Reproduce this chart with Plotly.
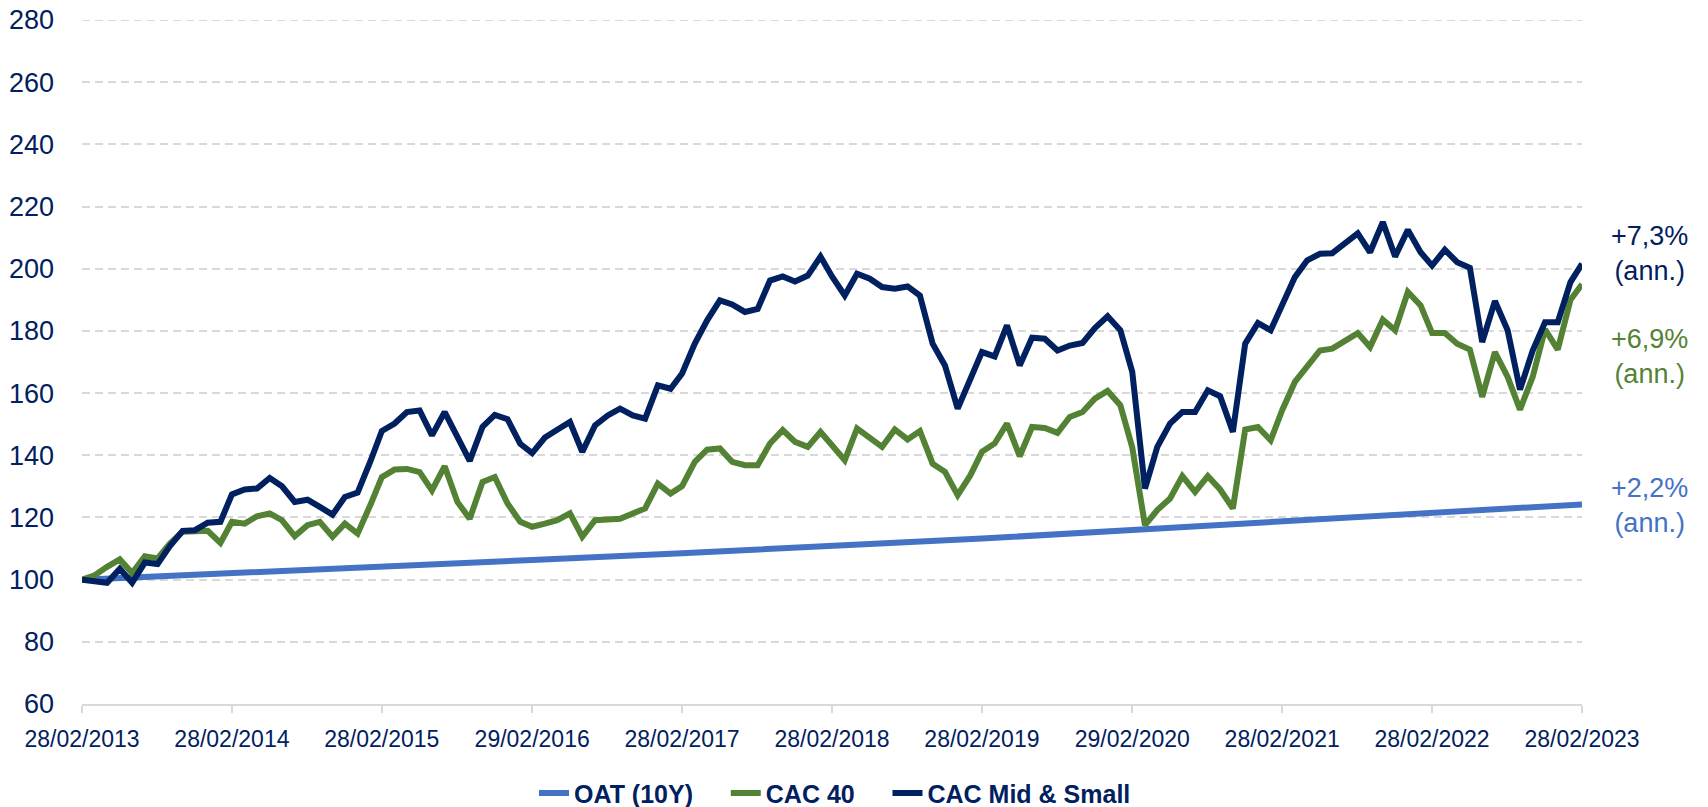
import pandas as pd
import plotly.graph_objects as go

# Monthly dates (month-end), Feb 2013 -> Feb 2023
dates = pd.date_range("2013-02-28", periods=121, freq="ME")

cac_mid_small = [
    100.0, 99.3, 99.0, 103.5, 99.0, 105.5, 105.0, 110.8, 115.7, 115.9, 118.3, 118.6,
    127.4, 129.0, 129.3, 132.7, 130.0, 125.0, 125.7, 123.4, 120.9, 126.6, 128.0, 138.0,
    147.8, 150.2, 153.9, 154.4, 146.4, 153.9, 145.9, 138.2, 149.1, 153.0, 151.6, 143.7,
    140.7, 145.7, 148.2, 150.7, 141.1, 149.6, 152.8, 155.0, 152.8, 151.8, 162.5, 161.4,
    166.3, 175.9, 183.4, 189.8, 188.5, 186.1, 187.1, 196.2, 197.5, 195.9, 197.8, 203.9,
    197.5, 191.4, 198.4, 196.8, 194.1, 193.6, 194.3, 191.4, 175.9, 168.9, 155.0, 164.1,
    173.2, 171.8, 181.8, 168.9, 177.8, 177.5, 173.7, 175.3, 176.1, 180.9, 184.7, 180.2,
    166.8, 129.3, 142.7, 150.2, 153.9, 153.9, 160.9, 159.0, 147.5, 175.9, 182.5, 180.2,
    188.7, 197.3, 202.7, 204.8, 205.0, 208.0, 211.4, 205.3, 215.0, 203.9, 212.5, 205.3,
    201.0, 206.1, 202.1, 200.3, 176.4, 189.6, 180.2, 161.1, 173.7, 182.8, 182.8, 195.7,
    201.6,
]

cac_40 = [
    100.0, 101.4, 104.1, 106.5, 102.1, 107.5, 106.8, 111.6, 115.4, 115.4, 115.7, 111.8,
    118.6, 118.0, 120.4, 121.3, 119.1, 114.0, 117.5, 118.6, 113.8, 118.0, 114.8, 124.0,
    133.0, 135.4, 135.6, 134.6, 128.7, 136.5, 125.0, 119.6, 131.4, 133.0, 124.5, 118.6,
    117.0, 118.0, 119.1, 121.3, 113.8, 119.1, 119.3, 119.6, 121.3, 122.9, 130.9, 127.7,
    130.1, 137.9, 141.8, 142.2, 137.9, 136.8, 136.8, 143.8, 148.1, 144.3, 142.7, 147.5,
    143.2, 138.4, 148.6, 145.4, 142.7, 148.3, 145.1, 147.8, 137.3, 134.7, 127.2, 133.6,
    141.1, 143.8, 150.2, 139.7, 149.1, 148.8, 147.2, 152.3, 153.9, 158.2, 160.7, 156.1,
    142.5, 117.5, 122.4, 126.1, 133.3, 128.2, 133.3, 129.0, 122.9, 148.3, 149.1, 144.8,
    154.5, 163.6, 168.4, 173.7, 174.3, 177.0, 179.3, 174.8, 183.6, 180.2, 192.5, 188.2,
    179.3, 179.3, 175.9, 174.0, 158.8, 173.2, 165.2, 154.7, 165.2, 180.5, 174.0, 190.0,
    195.0,
]

# OAT (10Y) read at each yearly tick
oat_dates = ["2013-02-28", "2014-02-28", "2015-02-28", "2016-02-29", "2017-02-28",
             "2018-02-28", "2019-02-28", "2020-02-29", "2021-02-28", "2022-02-28",
             "2023-02-28"]
oat_10y = [100.0, 102.0, 104.3, 106.3, 108.5, 110.8, 113.2, 116.0, 118.6, 121.3, 124.2]

tick_labels = ["28/02/2013", "28/02/2014", "28/02/2015", "29/02/2016", "28/02/2017",
               "28/02/2018", "28/02/2019", "29/02/2020", "28/02/2021", "28/02/2022",
               "28/02/2023"]

series_names = ["OAT (10Y)", "CAC 40", "CAC Mid & Small"]
annual_returns = ["+2,2%", "+6,9%", "+7,3%"]

Y_MIN, Y_MAX = 60, 280

NAVY = "#002060"
GREEN = "#548235"
BLUE = "#4472C4"
GRID = "#D9D9D9"
FONT = "Liberation Sans"
PAD = "\u00a0\u00a0\u00a0\u00a0"

fig = go.Figure()
fig.add_trace(go.Scatter(x=oat_dates, y=oat_10y, mode="lines", name=series_names[0] + PAD,
                         line=dict(color=BLUE, width=6)))
fig.add_trace(go.Scatter(x=dates, y=cac_40, mode="lines", name=series_names[1] + PAD,
                         line=dict(color=GREEN, width=6)))
fig.add_trace(go.Scatter(x=dates, y=cac_mid_small, mode="lines", name=series_names[2],
                         line=dict(color=NAVY, width=6)))

# top gridline (plotly clips gridlines at the range end)
fig.add_shape(type="line", xref="paper", yref="y", x0=0, x1=1, y0=Y_MAX, y1=Y_MAX,
              line=dict(color=GRID, width=2, dash="8px,5px"), layer="below")

# annotations: annualised returns
ann_y = [0.2905, 0.5085, 0.6588]
ann_col = [BLUE, GREEN, NAVY]
for txt, yy, col in zip(annual_returns, ann_y, ann_col):
    fig.add_annotation(xref="paper", yref="paper", x=1.0447, y=yy,
                       text=f"{txt}<br>(ann.)", showarrow=False,
                       xanchor="center", yanchor="middle",
                       font=dict(family=FONT, size=27, color=col))

fig.update_layout(
    width=1708, height=807,
    margin=dict(l=82, r=126, t=20, b=103, autoexpand=False),
    paper_bgcolor="white", plot_bgcolor="white",
    showlegend=True,
    legend=dict(orientation="h", x=0.502, y=-0.1306, xanchor="center", yanchor="middle",
                font=dict(family=FONT, size=25, color=NAVY, weight="bold"),
                tracegroupgap=0),
    font=dict(family=FONT, color=NAVY),
)

fig.update_xaxes(
    type="date",
    range=[dates[0], dates[-1]],
    tickvals=oat_dates, ticktext=tick_labels,
    showgrid=False, zeroline=False,
    showline=True, linecolor=GRID, linewidth=2,
    ticks="outside", ticklen=7, tickwidth=2, tickcolor=GRID,
    ticklabelstandoff=6, ticklabeloverflow="allow",
    tickfont=dict(family=FONT, size=23, color=NAVY),
    automargin=False,
)
fig.update_yaxes(
    range=[Y_MIN, Y_MAX], tick0=Y_MIN, dtick=20,
    showgrid=True, gridcolor=GRID, gridwidth=2, griddash="8px,5px",
    zeroline=False, showline=False,
    ticks="", ticklabelstandoff=27, ticklabeloverflow="allow",
    tickfont=dict(family=FONT, size=27, color=NAVY),
    automargin=False,
)

# remove the default 8px page margin so the figure fills the window exactly
fig.write_html("out.html",
               config={"displayModeBar": False},
               post_script="document.body.style.margin='0';document.body.style.overflow='hidden';")
